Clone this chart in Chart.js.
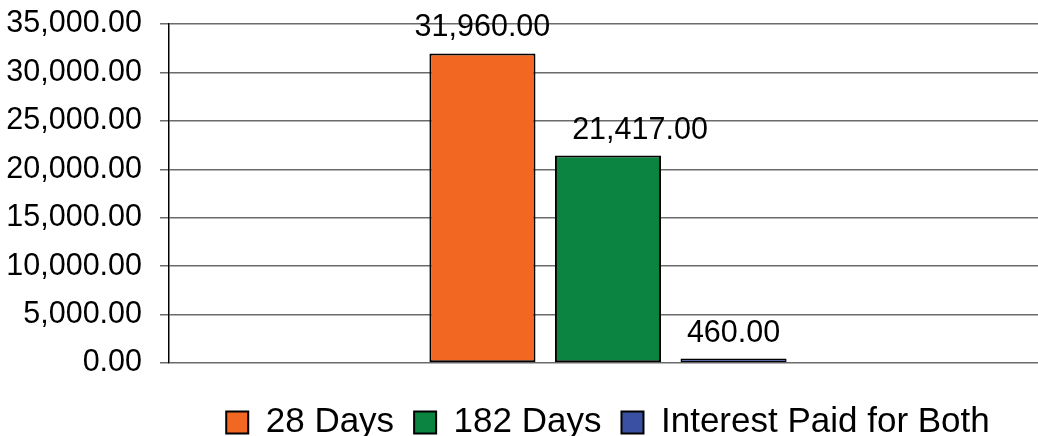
<!DOCTYPE html>
<html>
<head>
<meta charset="utf-8">
<script src="https://cdn.jsdelivr.net/npm/chart.js@4/dist/chart.umd.min.js"></script>
<style>
  html, body { margin: 0; padding: 0; background: #fff; overflow: hidden; }
  #wrap { width: 1047px; height: 436px; }
</style>
</head>
<body>
<div id="wrap"><canvas id="chart"></canvas></div>
<script>
// data
const categories = [''];
const seriesNames = ['28 Days', '182 Days', 'Interest Paid for Both'];
const days28 = [31960];
const days182 = [21417];
const interestBoth = [460];
const yTicks = [0, 5000, 10000, 15000, 20000, 25000, 30000, 35000];

const colors = ['#F26722', '#0B8441', '#3A50A2'];
const fmt = v => v.toLocaleString('en-US', { minimumFractionDigits: 2, maximumFractionDigits: 2 });
const FONT = "'Liberation Sans', Arial, sans-serif";

// values above the bars
const valueLabels = {
    id: 'valueLabels',
    afterDatasetsDraw(chart) {
        const ctx = chart.ctx;
        ctx.save();
        ctx.font = '30.5px ' + FONT;
        ctx.fillStyle = '#000';
        ctx.textAlign = 'center';
        ctx.textBaseline = 'alphabetic';
        chart.data.datasets.forEach((ds, i) => {
            chart.getDatasetMeta(i).data.forEach((bar, j) => {
                ctx.fillText(fmt(ds.data[j]), bar.x + (ds.labelDx || 0), bar.y - 17);
            });
        });
        ctx.restore();
    }
};

// legend centred under the plot area and pushed down towards the bottom edge
const legendUnderPlot = {
    id: 'legendUnderPlot',
    afterLayout(chart) {
        const lg = chart.legend;
        lg.left = chart.chartArea.left;
        lg.right = chart.chartArea.right;
        lg.top += 14;
        lg.bottom += 14;
    }
};

const ctx = document.getElementById('chart').getContext('2d');
new Chart(ctx, {
    type: 'bar',
    data: {
        labels: categories,
        datasets: [
            { label: seriesNames[0], data: days28, backgroundColor: colors[0], borderWidth: 2 },
            { label: seriesNames[1], data: days182, backgroundColor: colors[1], borderWidth: 2, labelDx: 32 },
            { label: seriesNames[2], data: interestBoth, backgroundColor: colors[2], borderWidth: 1.5 }
        ].map(d => Object.assign(d, {
            borderColor: '#000', borderSkipped: false,
            categoryPercentage: 0.429, barPercentage: 0.845
        }))
    },
    options: {
        responsive: true,
        maintainAspectRatio: false,
        animation: false,
        layout: { padding: 0 },
        plugins: {
            tooltip: { enabled: false },
            legend: {
                position: 'bottom',
                labels: {
                    font: { family: FONT, size: 35 },
                    color: '#000',
                    boxWidth: 22,
                    boxHeight: 22,
                    padding: 20,
                    generateLabels: chart => chart.data.datasets.map((d, i) => ({
                        text: d.label, fillStyle: d.backgroundColor,
                        strokeStyle: '#000', lineWidth: 2, datasetIndex: i
                    }))
                }
            }
        },
        scales: {
            x: {
                ticks: { display: false },
                grid: { display: false },
                border: { display: false }
            },
            y: {
                min: 0, max: 35000,
                afterBuildTicks: axis => { axis.ticks = yTicks.map(v => ({ value: v })); },
                afterFit: axis => { axis.width = 169; axis.paddingTop = 24; axis.paddingBottom = 0; },
                ticks: {
                    font: { family: FONT, size: 30.5 },
                    color: '#000',
                    padding: 18,
                    callback: v => fmt(v)
                },
                grid: { color: '#6b6b6b', lineWidth: 1.5, tickLength: 9 },
                border: { color: '#000', width: 1.5 }
            }
        }
    },
    plugins: [valueLabels, legendUnderPlot]
});
</script>
</body>
</html>
